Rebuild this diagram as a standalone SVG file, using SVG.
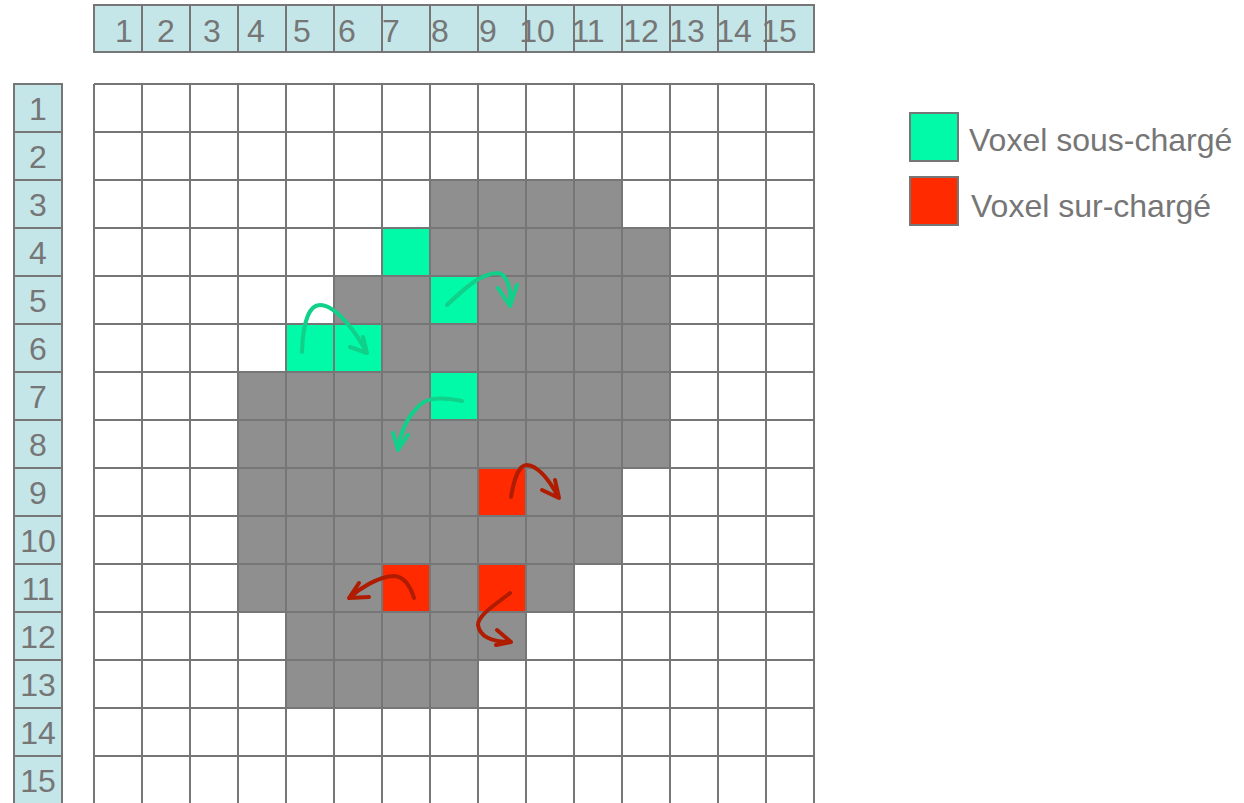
<svg xmlns="http://www.w3.org/2000/svg" width="1244" height="803" viewBox="0 0 1244 803">
<style>
.hdr{fill:#C4E6E9;stroke:#767676;stroke-width:2}
.lbl{font-family:"Liberation Sans",Arial,sans-serif;font-size:32px;fill:#767676}
.c{text-anchor:middle}
.g{fill:#8F8F8F}
.sg{fill:#00FAA8}
.sr{fill:#FF2A00}
.line{stroke:#767676;stroke-width:2;fill:none}
.ag{stroke:#10D08A;stroke-width:4;fill:none;stroke-linecap:round;stroke-linejoin:round}
.ar{stroke:#B01C00;stroke-width:4;fill:none;stroke-linecap:round;stroke-linejoin:round}
</style>
<rect width="1244" height="803" fill="#FFFFFF"/>
<g id="header-top">
<rect class="hdr" x="94" y="5" width="720" height="47"/>
<path class="line" d="M142,5V52M190,5V52M238,5V52M286,5V52M334,5V52M382,5V52M430,5V52M478,5V52M526,5V52M574,5V52M622,5V52M670,5V52M718,5V52M766,5V52"/>
<g class="lbl c">
<text x="124" y="42">1</text><text x="166" y="42">2</text><text x="212" y="42">3</text><text x="256" y="42">4</text><text x="302" y="42">5</text><text x="347" y="42">6</text><text x="391" y="42">7</text><text x="440" y="42">8</text><text x="488" y="42">9</text><text x="537" y="42">10</text><text x="588" y="42">11</text><text x="641" y="42">12</text><text x="687" y="42">13</text><text x="734" y="42">14</text><text x="779" y="42">15</text>
</g>
</g>
<g id="header-left">
<rect class="hdr" x="14" y="84" width="48" height="730"/>
<path class="line" d="M14,132H62M14,180H62M14,228H62M14,276H62M14,324H62M14,372H62M14,420H62M14,468H62M14,516H62M14,564H62M14,612H62M14,660H62M14,708H62M14,756H62"/>
<g class="lbl c">
<text x="38" y="120">1</text><text x="38" y="168">2</text><text x="38" y="216">3</text><text x="38" y="264">4</text><text x="38" y="312">5</text><text x="38" y="360">6</text><text x="38" y="408">7</text><text x="38" y="456">8</text><text x="38" y="504">9</text><text x="38" y="552">10</text><text x="38" y="600">11</text><text x="38" y="648">12</text><text x="38" y="696">13</text><text x="38" y="744">14</text><text x="38" y="792">15</text>
</g>
</g>
<g id="grid">
<g id="region">
<rect class="g" x="430" y="180" width="192" height="48"/>
<rect class="g" x="430" y="228" width="240" height="48"/>
<rect class="g" x="334" y="276" width="96" height="48"/>
<rect class="g" x="478" y="276" width="192" height="48"/>
<rect class="g" x="382" y="324" width="288" height="48"/>
<rect class="g" x="238" y="372" width="192" height="48"/>
<rect class="g" x="478" y="372" width="192" height="48"/>
<rect class="g" x="238" y="420" width="432" height="48"/>
<rect class="g" x="238" y="468" width="240" height="48"/>
<rect class="g" x="526" y="468" width="96" height="48"/>
<rect class="g" x="238" y="516" width="384" height="48"/>
<rect class="g" x="238" y="564" width="144" height="48"/>
<rect class="g" x="430" y="564" width="48" height="48"/>
<rect class="g" x="526" y="564" width="48" height="48"/>
<rect class="g" x="286" y="612" width="240" height="48"/>
<rect class="g" x="286" y="660" width="192" height="48"/>
</g>
<g id="under-charged">
<rect class="sg" x="382" y="228" width="48" height="48"/>
<rect class="sg" x="430" y="276" width="48" height="48"/>
<rect class="sg" x="286" y="324" width="96" height="48"/>
<rect class="sg" x="430" y="372" width="48" height="48"/>
</g>
<g id="over-charged">
<rect class="sr" x="478" y="468" width="48" height="48"/>
<rect class="sr" x="382" y="564" width="48" height="48"/>
<rect class="sr" x="478" y="564" width="48" height="48"/>
</g>
<path class="line" d="M94,84V814M142,84V814M190,84V814M238,84V814M286,84V814M334,84V814M382,84V814M430,84V814M478,84V814M526,84V814M574,84V814M622,84V814M670,84V814M718,84V814M766,84V814M814,84V814M94,84H814M94,132H814M94,180H814M94,228H814M94,276H814M94,324H814M94,372H814M94,420H814M94,468H814M94,516H814M94,564H814M94,612H814M94,660H814M94,708H814M94,756H814"/>
</g>
<g id="connectors">
<path class="ag" d="M302,352 C303,320 310,305 320,305 C335,305 355,330 367,353 M350,347 L367,353 L363,337"/>
<path class="ag" d="M447,305 C465,288 480,274 497,273 C507,273 512,290 510,306 M498,288 L510,306 L517,285"/>
<path class="ag" d="M462,401 C440,397 425,397 417,408 C405,420 400,435 398,450 M393,433 L398,450 L408,435"/>
<path class="ar" d="M511,497 C514,480 518,465 527,465 C540,466 552,485 559,498 M542,490 L559,498 L555,480"/>
<path class="ar" d="M414,598 C410,585 403,576 393,576 C378,577 360,588 349,598 M359,583 L349,598 L369,597"/>
<path class="ar" d="M510,593 C495,605 478,615 478,625 C480,638 495,642 511,642 M497,630 L511,642 L496,645"/>
</g>
<g id="legend-under">
<rect x="910" y="113" width="48" height="48" fill="#00FAA8" stroke="#767676" stroke-width="2"/>
<text class="lbl" x="969" y="151">Voxel sous-chargé</text>
</g>
<g id="legend-over">
<rect x="910" y="177" width="48" height="48" fill="#FF2A00" stroke="#767676" stroke-width="2"/>
<text class="lbl" x="971" y="217">Voxel sur-chargé</text>
</g>
</svg>
